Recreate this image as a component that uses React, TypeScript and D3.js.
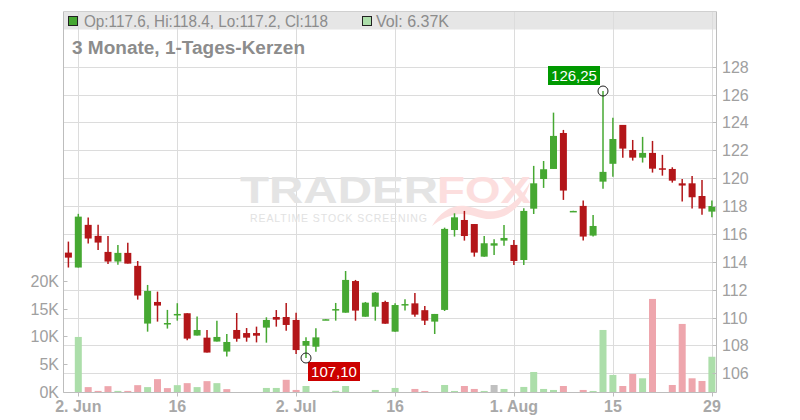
import React from "react";
import * as d3 from "d3";

const dates = [
  "2025-05-30","2025-06-02","2025-06-03","2025-06-04","2025-06-05","2025-06-06","2025-06-09","2025-06-10","2025-06-11","2025-06-12",
  "2025-06-13","2025-06-16","2025-06-17","2025-06-18","2025-06-19","2025-06-20","2025-06-23","2025-06-24","2025-06-25","2025-06-26",
  "2025-06-27","2025-06-30","2025-07-01","2025-07-02","2025-07-03","2025-07-04","2025-07-07","2025-07-08","2025-07-09","2025-07-10",
  "2025-07-11","2025-07-14","2025-07-15","2025-07-16","2025-07-17","2025-07-18","2025-07-21","2025-07-22","2025-07-23","2025-07-24",
  "2025-07-25","2025-07-28","2025-07-29","2025-07-30","2025-07-31","2025-08-01","2025-08-04","2025-08-05","2025-08-06","2025-08-07",
  "2025-08-08","2025-08-11","2025-08-12","2025-08-13","2025-08-14","2025-08-15","2025-08-18","2025-08-19","2025-08-20","2025-08-21",
  "2025-08-22","2025-08-25","2025-08-26","2025-08-27","2025-08-28","2025-08-29",
];
const opens = [
  114.66,113.59,116.65,115.86,114.71,114.02,114.64,113.71,109.57,111.12,
  109.57,110.22,110.31,108.71,108.56,108.28,107.56,109.11,108.89,108.89,
  109.28,110.04,110.04,109.83,107.98,107.91,109.86,110.57,110.35,112.62,
  110.06,110.78,111.12,108.99,110.93,111.02,110.53,109.71,110.55,116.28,
  117.0,116.71,114.37,115.16,115.52,115.21,114.13,117.81,119.94,120.66,
  123.24,117.64,118.01,115.88,119.75,121.03,123.82,122.02,121.47,121.81,
  120.71,120.66,119.63,119.63,118.72,117.6,
];
const highs = [
  115.45,117.44,117.17,116.65,115.86,115.21,115.36,114.06,112.34,111.86,
  110.55,111.03,110.31,110.07,109.11,109.78,108.83,110.33,109.25,109.35,
  110.02,110.54,111.05,110.35,108.58,109.23,109.9,111.05,113.34,112.7,
  111.12,111.83,111.21,111.02,111.31,111.76,110.83,110.26,116.45,117.48,
  117.65,116.71,115.85,115.61,116.64,115.57,117.84,120.88,121.23,124.7,
  123.46,117.66,118.39,117.36,126.25,124.33,123.82,122.74,122.96,122.67,
  121.67,120.78,119.94,120.16,119.87,118.4,
];
const lows = [
  113.59,113.59,115.31,114.85,113.85,113.78,113.87,111.29,108.99,109.71,
  109.21,109.78,108.37,108.71,107.49,108.28,107.2,108.27,108.27,108.22,
  108.2,109.35,109.06,107.39,107.1,107.55,109.85,109.78,110.35,109.78,
  110.06,109.78,109.56,108.99,110.5,110.06,109.47,108.82,110.47,115.81,
  115.52,114.37,114.37,114.49,115.16,113.77,113.77,117.43,119.3,120.66,
  118.44,117.64,115.52,115.81,119.24,120.11,121.47,121.26,121.12,120.4,
  120.18,119.68,118.32,117.82,117.38,117.2,
];
const closes = [
  114.3,117.24,115.67,115.38,114.02,114.64,113.87,111.58,111.91,110.86,
  109.61,110.26,108.49,109.11,107.49,108.61,108.25,108.48,108.56,108.7,
  109.83,109.85,109.47,107.67,108.32,108.58,109.88,110.61,112.7,110.5,
  111.07,111.79,109.56,110.9,110.97,110.21,109.78,110.26,116.36,117.19,
  115.85,114.66,115.33,115.33,115.71,114.06,117.65,119.63,120.64,123.03,
  119.11,117.65,115.81,116.57,120.45,122.81,122.12,121.47,121.81,120.68,
  120.61,119.82,119.47,118.63,117.82,118.0,
];
const volumesK = [
  0,9.92,0.93,0.25,1.1,0.25,0.25,1.28,0.93,2.36,
  0.75,1.28,1.64,0.93,2.0,1.64,0.57,0,0,0,
  0.78,0.78,2.24,0.42,1.13,0,0,0.27,1.13,0,
  0,0.42,0,0.78,0,0.6,0.24,0,1.31,0.24,
  1.13,0.6,0.24,1.31,0.6,0,0.96,3.64,0.6,0.42,
  1.13,0,0.42,0.24,11.17,3.11,1.13,3.29,2.51,16.73,
  0,1.31,12.25,2.51,2.03,6.37,
];
const priceTicks = [106,108,110,112,114,116,118,120,122,124,126,128];
const volumeTicks = [0,5,10,15,20];
const xTickIndex = [1,11,23,33,45,55,65];
const xTickLabels = ["2. Jun","16","2. Jul","16","1. Aug","15","29"];

const W = 800, H = 420;
const left = 63.5, right = 716.5, top = 11.5, bottom = 392.5;

const GREEN = "#46a832";
const RED = "#b31619";
const VGREEN = "#acdeaa";
const VRED = "#eea6ad";
const VGRAY = "#c0c0c0";
const FONT = "'Liberation Sans', Arial, sans-serif";

export default function App() {
  const x = d3.scaleLinear().domain([0, dates.length - 1]).range([68.4, 711.9]);
  const y = d3.scaleLinear().domain([104.64, 131.99]).range([392.3, 11]);
  const yv = d3.scaleLinear().domain([0, 68.33]).range([392.3, 11]);
  const bw = 7;
  const vbw = 7;

  const hiIdx = d3.maxIndex(highs);
  const loIdx = d3.minIndex(lows);
  const fmt = (v: number) => v.toFixed(2).replace(".", ",");

  return (
    <svg width={W} height={H} style={{ position: "absolute", left: 0, top: 0 }} fontFamily={FONT}>
      <rect x={0} y={0} width={W} height={H} fill="#fff" />
      {/* legend background */}
      <rect x={left} y={top} width={right - left} height={18} fill="#e6e6e6" />
      {/* horizontal grid */}
      {priceTicks.map((t) => (
        <line key={"h" + t} x1={left} x2={right} y1={Math.round(y(t)) + 0.5} y2={Math.round(y(t)) + 0.5} stroke="#dcdcdc" strokeWidth={1} />
      ))}
      {/* vertical grid */}
      {xTickIndex.map((i) => (
        <line key={"v" + i} x1={Math.round(x(i)) + 0.5} x2={Math.round(x(i)) + 0.5} y1={top} y2={bottom} stroke="#dcdcdc" strokeWidth={1} />
      ))}
      {/* watermark */}
      <g>
        <text x={240} y={203} fontSize={37} fontWeight={700} fill="#e4e4e4" textLength={198} lengthAdjust="spacingAndGlyphs">TRADER</text>
        <text x={437} y={203} fontSize={37} fontWeight={700} fill="#fcdede" textLength={94} lengthAdjust="spacingAndGlyphs">FOX</text>
        <text x={250} y={222} fontSize={10.5} fill="#e2e2e2" textLength={177} lengthAdjust="spacing">REALTIME STOCK SCREENING</text>
        <path d="M432,226 C440,212 452,204 466,206 C478,208 486,214 500,210 C512,206 522,196 530,182 C526,200 514,214 498,218 C484,222 474,214 462,214 C450,214 440,220 432,226 Z" fill="#fcdede" />
      </g>
      {/* volume bars */}
      {volumesK.map((v, i) => {
        if (v <= 0) return null;
        const prev = i > 0 ? closes[i - 1] : closes[i];
        const c = closes[i] > prev ? VGREEN : closes[i] < prev ? VRED : VGRAY;
        const yt = yv(v);
        return <rect key={"vb" + i} x={x(i) - vbw / 2} y={yt} width={vbw} height={yv(0) - yt} fill={c} />;
      })}
      {/* candles */}
      {dates.map((d, i) => {
        const up = closes[i] >= opens[i];
        const col = up ? GREEN : RED;
        const yTop = y(Math.max(opens[i], closes[i]));
        const yBot = y(Math.min(opens[i], closes[i]));
        const h = Math.max(1.5, yBot - yTop);
        return (
          <g key={"c" + d}>
            <line x1={x(i)} x2={x(i)} y1={y(highs[i])} y2={y(lows[i])} stroke={col} strokeWidth={1.5} />
            <rect x={x(i) - bw / 2} y={yTop} width={bw} height={h} fill={col} />
          </g>
        );
      })}
      {/* axes */}
      <line x1={left} x2={left} y1={top} y2={bottom} stroke="#bdbdbd" />
      <line x1={right} x2={right} y1={top} y2={bottom} stroke="#bdbdbd" />
      <line x1={left} x2={right} y1={bottom} y2={bottom} stroke="#bdbdbd" />
      <line x1={left} x2={right} y1={top} y2={top} stroke="#d0d0d0" />
      {volumeTicks.map((t) => (
        <g key={"vt" + t}>
          <line x1={left} x2={left + 4} y1={Math.round(yv(t)) + 0.5} y2={Math.round(yv(t)) + 0.5} stroke="#bdbdbd" />
          <text x={59} y={yv(t) + 6} fontSize={16} fill="#a0a0a0" textAnchor="end">{t + "K"}</text>
        </g>
      ))}
      {priceTicks.map((t) => (
        <g key={"pt" + t}>
          <line x1={right - 4} x2={right} y1={Math.round(y(t)) + 0.5} y2={Math.round(y(t)) + 0.5} stroke="#bdbdbd" />
          <text x={722} y={y(t) + 6} fontSize={16} fill="#a0a0a0">{t}</text>
        </g>
      ))}
      {xTickIndex.map((i, k) => (
        <g key={"xt" + i}>
          <line x1={Math.round(x(i)) + 0.5} x2={Math.round(x(i)) + 0.5} y1={bottom} y2={bottom + 4} stroke="#bdbdbd" />
          <text x={x(i)} y={412} fontSize={16} fontWeight={700} fill="#a8a8a8" textAnchor="middle">{xTickLabels[k]}</text>
        </g>
      ))}
      {/* high marker */}
      <rect x={548} y={66} width={52} height={19} fill="#009900" />
      <text x={574} y={81} fontSize={15} fill="#fff" textAnchor="middle">{fmt(highs[hiIdx])}</text>
      <circle cx={x(hiIdx)} cy={y(highs[hiIdx])} r={5} fill="none" stroke="#222" strokeWidth={1} />
      {/* low marker */}
      <rect x={308} y={362} width={52} height={19} fill="#cc0000" />
      <text x={334} y={377} fontSize={15} fill="#fff" textAnchor="middle">{fmt(lows[loIdx])}</text>
      <circle cx={x(loIdx)} cy={y(lows[loIdx])} r={5} fill="none" stroke="#222" strokeWidth={1} />
      {/* legend */}
      <rect x={68.5} y={16.5} width={9} height={9} fill={GREEN} stroke="#222" />
      <text x={84} y={26.5} fontSize={16} fill="#8c8c8c" textLength={244} lengthAdjust="spacingAndGlyphs">{`Op:${opens[65]}, Hi:${highs[65]}, Lo:${lows[65]}, Cl:${closes[65]}`}</text>
      <rect x={362.5} y={16.5} width={9} height={9} fill={VGREEN} stroke="#222" />
      <text x={376} y={26.5} fontSize={16} fill="#8c8c8c">{`Vol: ${volumesK[65]}K`}</text>
      <text x={72} y={54} fontSize={18} fontWeight={700} fill="#8c8c8c" textLength={233} lengthAdjust="spacingAndGlyphs">3 Monate, 1-Tages-Kerzen</text>
    </svg>
  );
}
